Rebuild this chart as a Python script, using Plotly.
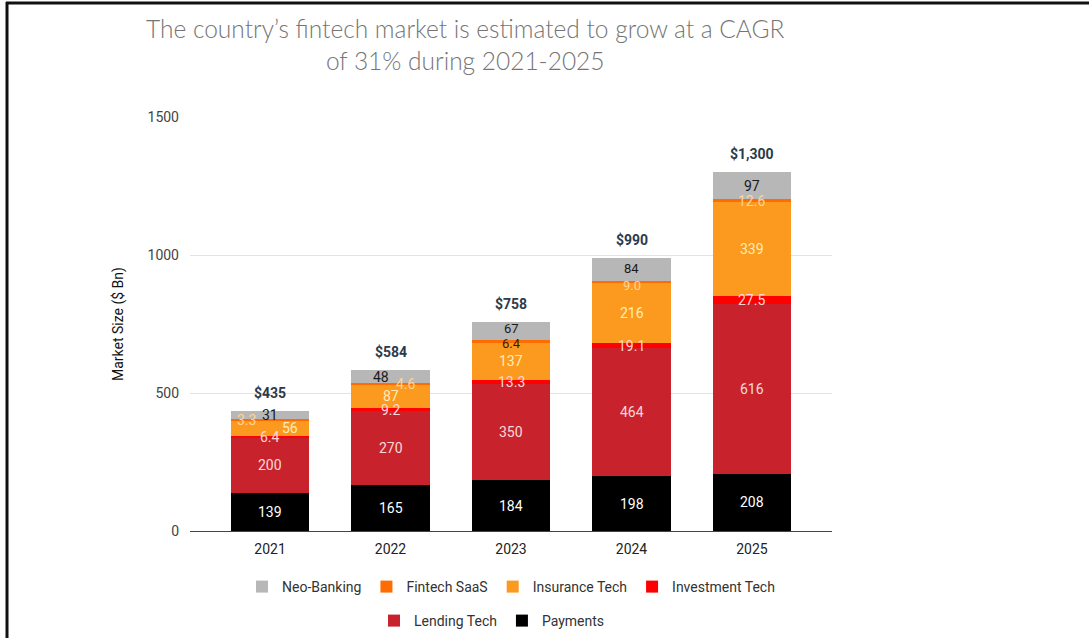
import plotly.graph_objects as go

# ---- data ----
years = ["2021", "2022", "2023", "2024", "2025"]
payments = [139, 165, 184, 198, 208]
lending_tech = [200, 270, 350, 464, 616]
investment_tech = [6.4, 9.2, 13.3, 19.1, 27.5]
insurance_tech = [56, 87, 137, 216, 339]
fintech_saas = [3.3, 4.6, 6.4, 9.0, 12.6]
neo_banking = [31, 48, 67, 84, 97]
totals = [435, 584, 758, 990, 1300]
total_labels = ["$435", "$584", "$758", "$990", "$1,300"]

y_ticks = [0, 500, 1000, 1500]

# series drawn bottom-up:
# (name, values, bar colour, label colours, label x-offsets, label y-offsets)
series = [
    ("Payments", payments, "#000000", ["#ffffff"] * 5, [0] * 5, [0] * 5),
    ("Lending Tech", lending_tech, "#c8232c", ["#f6dada"] * 5, [0] * 5, [0] * 5),
    ("Investment Tech", investment_tech, "#ff0000", ["#ffd6d6"] * 5, [0] * 5, [0] * 5),
    ("Insurance Tech", insurance_tech, "#fb9a1e", ["#ffedb8"] * 5, [20, 0, 0, 0, 0], [0] * 5),
    ("Fintech SaaS", fintech_saas, "#ff6d01",
     ["#ffd493", "#ffd493", "#3b1800", "#ffd493", "#ffd493"],
     [-24, 15, 0, 0, 0], [0, 0, -2, -3, 0]),
    ("Neo-Banking", neo_banking, "#b7b7b7", ["#1a1a1a"] * 5,
     [0, -10, 0, 0, 0], [0, 0, 3, 1, 0]),
]
one_decimal = {"Investment Tech", "Fintech SaaS"}

legend_of = {
    "Neo-Banking": "legend", "Fintech SaaS": "legend",
    "Insurance Tech": "legend", "Investment Tech": "legend",
    "Lending Tech": "legend2", "Payments": "legend2",
}

W, H = 1089, 638
L, R, T, B = 190, 257, 117, 107
PW, PH = W - L - R, H - T - B


def px_x(px):
    return (px - L) / PW


def px_y(py):
    return (H - B - py) / PH


fig = go.Figure()
annotations = []

base = [0.0] * len(years)
for name, vals, color, lab_cols, xoffs, yoffs in series:
    fig.add_trace(go.Bar(
        x=years, y=vals, name=name, marker=dict(color=color, line=dict(width=0)),
        legend=legend_of[name], hoverinfo="skip",
    ))
    for i, v in enumerate(vals):
        tight = yoffs[i] != 0
        annotations.append(dict(
            x=i, y=base[i] + v / 2, xref="x", yref="y",
            text=f"{v:.1f}" if name in one_decimal else f"{v:g}",
            showarrow=False, xshift=xoffs[i], yshift=yoffs[i],
            font=dict(family="Roboto", size=13 if tight else 14, color=lab_cols[i]),
        ))
        base[i] += v

# totals above each bar
for i, (tot, lab) in enumerate(zip(totals, total_labels)):
    annotations.append(dict(
        x=i, y=tot, xref="x", yref="y", text=f"<b>{lab}</b>",
        showarrow=False, yanchor="bottom", yshift=8,
        font=dict(family="Roboto", size=14, color="#2c3a4a"),
    ))

# title
annotations.append(dict(
    x=px_x(465), y=px_y(12), xref="paper", yref="paper",
    xanchor="center", yanchor="top", showarrow=False, align="center",
    text="The country’s fintech market is estimated to grow at a CAGR<br>of 31% during 2021-2025",
    font=dict(family="Lato", size=24.5, weight=300, color="#757575"),
))

# frame lines along the top and left edges
shapes = [
    dict(type="line", xref="paper", yref="paper", x0=px_x(6), x1=px_x(W + 2),
         y0=px_y(3), y1=px_y(3), line=dict(color="#111111", width=3)),
    dict(type="line", xref="paper", yref="paper", x0=px_x(7), x1=px_x(7),
         y0=px_y(2), y1=px_y(H + 2), line=dict(color="#111111", width=3)),
]

legend_font = dict(family="Roboto", size=14, color="#333333")

fig.update_layout(
    width=W, height=H,
    margin=dict(l=L, r=R, t=T, b=B, autoexpand=False),
    paper_bgcolor="white", plot_bgcolor="white",
    barmode="stack", bargap=0.35,
    font=dict(family="Roboto", size=14, color="#333333"),
    showlegend=True,
    legend=dict(orientation="h", xref="container", yref="container",
                x=511 / W, xanchor="center", y=1 - 587 / H, yanchor="middle",
                traceorder="reversed", font=legend_font),
    legend2=dict(orientation="h", xref="container", yref="container",
                 x=492 / W, xanchor="center", y=1 - 621 / H, yanchor="middle",
                 traceorder="reversed", font=legend_font),
    xaxis=dict(
        type="category", range=[-0.664, 4.664], showgrid=False, showline=False,
        ticks="", ticklabelstandoff=8,
        tickfont=dict(family="Roboto", size=14, color="#222222"),
    ),
    yaxis=dict(
        range=[0, 1500], tickvals=y_ticks, ticktext=[str(t) for t in y_ticks],
        showgrid=True, gridcolor="#e3e3e3", gridwidth=1,
        zeroline=True, zerolinecolor="#444444", zerolinewidth=1,
        ticks="", ticklabelstandoff=10,
        tickfont=dict(family="Roboto", size=14, color="#444444"),
        title=dict(text="Market Size ($ Bn)", standoff=20,
                   font=dict(family="Roboto", size=14, color="#111111")),
    ),
    annotations=annotations,
    shapes=shapes,
)

fig.write_html("out.html")
